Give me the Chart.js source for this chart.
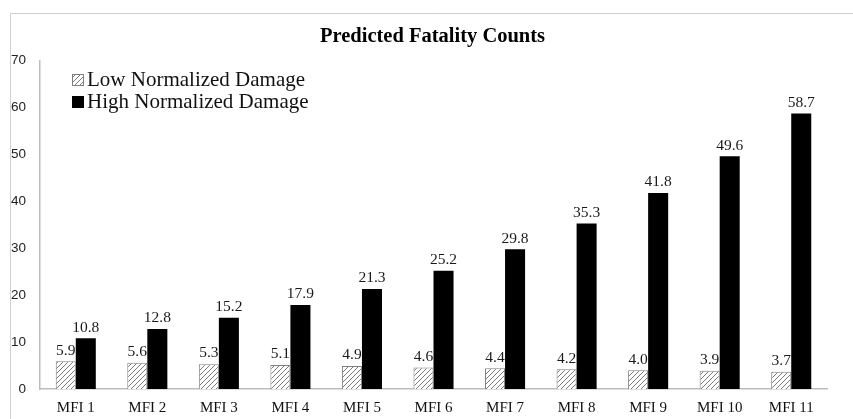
<!DOCTYPE html>
<html>
<head>
<meta charset="utf-8">
<script src="https://cdn.jsdelivr.net/npm/chart.js@4/dist/chart.umd.min.js"></script>
<style>
  html, body { margin: 0; padding: 0; background: #fff; }
  #wrap { width: 853px; height: 419px; }
</style>
</head>
<body>
<div id="wrap"><canvas id="grafico"></canvas></div>
<script>
const categorias = ['MFI 1', 'MFI 2', 'MFI 3', 'MFI 4', 'MFI 5', 'MFI 6', 'MFI 7', 'MFI 8', 'MFI 9', 'MFI 10', 'MFI 11'];
const danoBaixo = [5.9, 5.6, 5.3, 5.1, 4.9, 4.6, 4.4, 4.2, 4.0, 3.9, 3.7];
const danoAlto = [10.8, 12.8, 15.2, 17.9, 21.3, 25.2, 29.8, 35.3, 41.8, 49.6, 58.7];
const ticksY = [0, 10, 20, 30, 40, 50, 60, 70];

const serif = '"Liberation Serif", "Times New Roman", serif';
const sans = '"Liberation Sans", Arial, sans-serif';

function criarHachura() {
    const c = document.createElement('canvas');
    c.width = 5;
    c.height = 5;
    const g = c.getContext('2d');
    g.fillStyle = '#ffffff';
    g.fillRect(0, 0, 5, 5);
    g.strokeStyle = '#7a7a7a';
    g.lineWidth = 1;
    g.beginPath();
    g.moveTo(-1, 6); g.lineTo(6, -1);
    g.moveTo(-1, 1); g.lineTo(1, -1);
    g.moveTo(4, 6); g.lineTo(6, 4);
    g.stroke();
    return g.createPattern(c, 'repeat');
}

const hachura = criarHachura();

// rotulos de valor em cima das barras + legenda dentro da area + moldura
const extras = {
    id: 'extras',
    afterLayout(chart) {
        // titulo um pouco deslocado para a direita, como no original
        if (chart.titleBlock) {
            chart.titleBlock.left += 19;
            chart.titleBlock.right += 19;
        }
    },
    afterDraw(chart) {
        const ctx = chart.ctx;
        ctx.save();
        // moldura cinza (so topo e esquerda aparecem no recorte)
        ctx.strokeStyle = '#d0d0d0';
        ctx.lineWidth = 1;
        ctx.beginPath();
        ctx.moveTo(10.5, 430);
        ctx.lineTo(10.5, 13.5);
        ctx.lineTo(860, 13.5);
        ctx.stroke();

        ctx.font = '15.5px ' + serif;
        ctx.fillStyle = '#1a1a1a';
        ctx.textAlign = 'center';
        ctx.textBaseline = 'bottom';
        chart.data.datasets.forEach((ds, i) => {
            const meta = chart.getDatasetMeta(i);
            meta.data.forEach((bar, j) => {
                ctx.fillText(ds.data[j].toFixed(1), bar.x, bar.y - 3);
            });
        });

        // legenda
        ctx.font = '21px ' + serif;
        ctx.textAlign = 'left';
        ctx.textBaseline = 'middle';
        chart.data.datasets.forEach((ds, i) => {
            const y = 80 + i * 22;
            ctx.fillStyle = ds.backgroundColor;
            ctx.fillRect(72, y - 6, 12, 12);
            ctx.strokeStyle = i === 0 ? '#808080' : '#000';
            ctx.lineWidth = 1;
            ctx.strokeRect(72.5, y - 5.5, 11, 11);
            ctx.fillStyle = '#111';
            ctx.fillText(ds.label, 87, y);
        });
        ctx.restore();
    }
};

const ctx = document.getElementById('grafico').getContext('2d');
new Chart(ctx, {
    type: 'bar',
    data: {
        labels: categorias,
        datasets: [{
            label: 'Low Normalized Damage',
            data: danoBaixo,
            backgroundColor: hachura,
            borderColor: '#808080',
            borderWidth: 1
        }, {
            label: 'High Normalized Damage',
            data: danoAlto,
            backgroundColor: '#000000',
            borderWidth: 0
        }]
    },
    options: {
        responsive: true,
        maintainAspectRatio: false,
        animation: false,
        datasets: {
            bar: {
                barPercentage: 1,
                categoryPercentage: 0.56
            }
        },
        layout: {
            padding: { top: 24, right: 26, bottom: 0, left: 0 }
        },
        plugins: {
            legend: { display: false },
            tooltip: { enabled: false },
            title: {
                display: true,
                text: 'Predicted Fatality Counts',
                color: '#000',
                font: { family: serif, size: 20.5, weight: 'bold' },
                padding: { top: 0, bottom: 12 }
            }
        },
        scales: {
            x: {
                grid: { display: false, drawTicks: false },
                border: { color: '#bdbdbd', width: 1.5 },
                ticks: {
                    color: '#111',
                    font: { family: serif, size: 15 },
                    padding: 10,
                    maxRotation: 0
                },
                afterFit(scale) { scale.height = 30; }
            },
            y: {
                min: 0,
                max: 70,
                grid: { display: false, drawTicks: false },
                border: { color: '#bdbdbd', width: 1.5 },
                afterBuildTicks(scale) {
                    scale.ticks = ticksY.map(v => ({ value: v }));
                },
                ticks: {
                    color: '#222',
                    font: { family: sans, size: 13.5 },
                    padding: 14
                },
                afterFit(scale) { scale.width = 40; }
            }
        }
    },
    plugins: [extras]
});
</script>
</body>
</html>
